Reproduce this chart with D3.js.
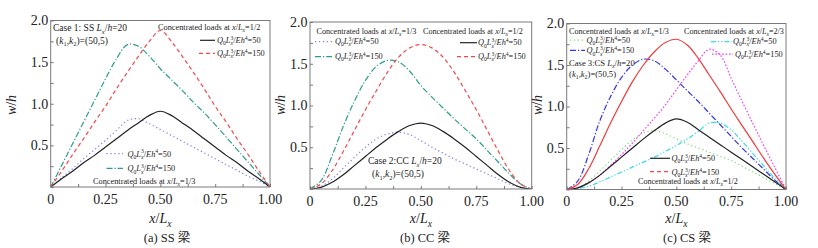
<!DOCTYPE html>
<html>
<head>
<meta charset="utf-8">
<script src="https://cdn.jsdelivr.net/npm/d3@7"></script>
<style>
  body { margin: 0; background: #fff; }
  svg { display: block; }
  svg text { fill: #222; }
</style>
</head>
<body>
<svg id="chart" width="818" height="248" font-family="'Liberation Serif', 'Noto Sans CJK SC', serif"></svg>
<script>
// shared x grid (x/Lx)
const xs = [0, 0.05, 0.1, 0.15, 0.2, 0.25, 0.3, 0.35, 0.4, 0.45, 0.5,
            0.55, 0.6, 0.65, 0.7, 0.75, 0.8, 0.85, 0.9, 0.95, 1];

// (a) SS beam
const ssMid50    = [0, 0.1, 0.19, 0.29, 0.38, 0.48, 0.58, 0.68, 0.77, 0.86, 0.91, 0.86, 0.77, 0.68, 0.58, 0.48, 0.38, 0.29, 0.19, 0.1, 0];
const ssMid150   = [0, 0.19, 0.39, 0.58, 0.78, 0.97, 1.18, 1.38, 1.57, 1.75, 1.88, 1.75, 1.57, 1.38, 1.18, 0.97, 0.78, 0.58, 0.39, 0.19, 0];
const ssThird50  = [0, 0.11, 0.22, 0.34, 0.45, 0.56, 0.68, 0.8, 0.82, 0.76, 0.69, 0.62, 0.55, 0.48, 0.41, 0.34, 0.27, 0.2, 0.13, 0.07, 0];
const ssThird150 = [0, 0.26, 0.52, 0.78, 1.04, 1.3, 1.54, 1.71, 1.69, 1.57, 1.42, 1.29, 1.16, 1.02, 0.89, 0.75, 0.6, 0.45, 0.3, 0.15, 0];

// (b) CC beam
const ccMid50    = [0, 0.02, 0.08, 0.17, 0.28, 0.39, 0.5, 0.6, 0.69, 0.76, 0.79, 0.76, 0.69, 0.6, 0.5, 0.39, 0.28, 0.17, 0.08, 0.02, 0];
const ccMid150   = [0, 0.06, 0.22, 0.45, 0.7, 0.95, 1.18, 1.4, 1.58, 1.69, 1.73, 1.69, 1.58, 1.4, 1.18, 0.95, 0.7, 0.45, 0.22, 0.06, 0];
const ccThird50  = [0, 0.03, 0.12, 0.25, 0.38, 0.5, 0.6, 0.66, 0.68, 0.65, 0.58, 0.5, 0.43, 0.36, 0.3, 0.24, 0.18, 0.12, 0.06, 0.02, 0];
const ccThird150 = [0, 0.1, 0.4, 0.75, 1.05, 1.3, 1.47, 1.54, 1.52, 1.41, 1.24, 1.1, 0.97, 0.84, 0.72, 0.6, 0.46, 0.32, 0.18, 0.06, 0];

// (c) CS beam
const csMid50       = [0, 0.02, 0.08, 0.17, 0.28, 0.39, 0.5, 0.61, 0.71, 0.8, 0.85, 0.81, 0.72, 0.63, 0.54, 0.45, 0.36, 0.27, 0.18, 0.09, 0];
const csMid150      = [0, 0.06, 0.25, 0.52, 0.8, 1.06, 1.3, 1.5, 1.66, 1.77, 1.81, 1.74, 1.58, 1.38, 1.18, 0.97, 0.77, 0.57, 0.37, 0.18, 0];
const csThird50     = [0, 0.02, 0.1, 0.22, 0.35, 0.48, 0.6, 0.68, 0.71, 0.67, 0.61, 0.55, 0.5, 0.45, 0.4, 0.35, 0.28, 0.21, 0.14, 0.07, 0];
const csThird150    = [0, 0.1, 0.42, 0.82, 1.12, 1.35, 1.5, 1.57, 1.55, 1.45, 1.32, 1.19, 1.06, 0.92, 0.78, 0.64, 0.5, 0.37, 0.24, 0.11, 0];
const csTwoThird50  = [0, 0.01, 0.04, 0.09, 0.15, 0.21, 0.27, 0.33, 0.39, 0.46, 0.53, 0.61, 0.7, 0.8, 0.8, 0.72, 0.58, 0.43, 0.28, 0.13, 0];
const csTwoThird150 = [0, 0.02, 0.08, 0.17, 0.29, 0.42, 0.56, 0.71, 0.86, 1.02, 1.2, 1.38, 1.55, 1.69, 1.62, 1.34, 1.06, 0.79, 0.52, 0.26, 0];

const xTicks = [0, 0.25, 0.5, 0.75, 1];
const xTickLabels = ["0", "0.25", "0.50", "0.75", "1.00"];
const yTicks = [0.5, 1, 1.5, 2];
const yTickLabels = ["0.5", "1.0", "1.5", "2.0"];
const captions = ["(a)  SS 梁", "(b)  CC 梁", "(c)  CS 梁"];

// line styles
const st = {
  black:   { color: "#222222", dash: null },
  red:     { color: "#f04848", dash: "4,3" },
  redSol:  { color: "#f03a3a", dash: null },
  teal:    { color: "#2e9c8c", dash: "6,2,1.2,2" },
  purple:  { color: "#7f7ff5", dash: "1.3,2.6" },
  green:   { color: "#7fdc7f", dash: "1.3,2.6" },
  blue:    { color: "#3434e6", dash: "6,2,1.2,2" },
  cyan:    { color: "#34dceb", dash: "5,2,1.2,2,1.2,2" },
  magenta: { color: "#f040f0", dash: "1.6,1.8" }
};

const svg = d3.select("#chart");

const panels = [
  { left: 50.7, top: 20.5, width: 219.3, height: 166.5, ylab: 12, cap: captions[0], capX: 167,
    series: [[ssThird50, st.purple], [ssThird150, st.teal], [ssMid50, st.black], [ssMid150, st.red]] },
  { left: 310, top: 22, width: 221.7, height: 167, ylab: 281, cap: captions[1], capX: 425,
    series: [[ccThird50, st.purple], [ccThird150, st.teal], [ccMid50, st.black], [ccMid150, st.red]] },
  { left: 566.7, top: 23.5, width: 219.3, height: 166, ylab: 538, cap: captions[2], capX: 687,
    series: [[csThird50, st.green], [csTwoThird50, st.cyan], [csThird150, st.blue], [csTwoThird150, st.magenta], [csMid50, st.black], [csMid150, st.redSol]] }
];

const FONT = "'Liberation Serif', 'Noto Sans CJK SC', serif";

// rich text: parts = [text, flags] with flags i=italic, b=subscript, p=superscript, k=stack back over previous
function rich(g, x, y, parts, size, anchor) {
  const t = g.append("text").attr("x", x).attr("y", y)
    .attr("font-family", FONT)
    .attr("text-anchor", anchor || "start").style("font-size", size + "px");
  let cur = 0;
  parts.forEach(([txt, f = ""]) => {
    let off = 0, fs = size;
    if (f.includes("b")) { off = 0.28 * size; fs = 0.68 * size; }
    if (f.includes("p")) { off = -0.38 * size; fs = 0.68 * size; }
    const ts = t.append("tspan").attr("dy", off - cur).style("font-size", fs + "px").text(txt);
    if (f.includes("i")) ts.style("font-style", "italic");
    if (f.includes("k")) ts.attr("dx", -0.3 * size);
    cur = off;
  });
  return t;
}

const qLabel = v => [["Q", "i"], ["0", "b"], ["L", "i"], ["x", "ib"], ["3", "pk"], ["/"], ["E", "i"], ["h", "i"], ["4", "p"], ["=" + v]];
const loadLabel = frac => [["Concentrated loads at "], ["x", "i"], ["/"], ["L", "i"], ["x", "ib"], ["=" + frac]];
const caseLabel = (name) => [[name + " "], ["L", "i"], ["x", "ib"], ["/"], ["h", "i"], ["=20"]];
const kLabel = [["("], ["k", "i"], ["1", "b"], [","], ["k", "i"], ["2", "b"], [")=(50,5)"]];

function legendLine(g, x1, x2, y, s) {
  g.append("line").attr("x1", x1).attr("x2", x2).attr("y1", y).attr("y2", y)
    .attr("stroke", s.color).attr("stroke-width", 1.2)
    .attr("stroke-dasharray", s.dash);
}

panels.forEach((p, i) => {
  const g = svg.append("g");
  const x = d3.scaleLinear().domain([0, 1]).range([p.left, p.left + p.width]);
  const y = d3.scaleLinear().domain([0, 2]).range([p.top + p.height, p.top]);

  // curves
  const line = d3.line().x((d, k) => x(xs[k])).y(d => y(d)).curve(d3.curveCatmullRom.alpha(0.5));
  const clipId = "clip" + i;
  g.append("clipPath").attr("id", clipId).append("rect")
    .attr("x", p.left).attr("y", p.top).attr("width", p.width).attr("height", p.height);
  p.series.forEach(([vals, s]) => {
    g.append("path").attr("d", line(vals)).attr("fill", "none")
      .attr("clip-path", `url(#${clipId})`)
      .attr("stroke", s.color).attr("stroke-width", 1.2)
      .attr("stroke-dasharray", s.dash);
  });

  // frame
  g.append("rect").attr("x", p.left).attr("y", p.top).attr("width", p.width).attr("height", p.height)
    .attr("fill", "none").attr("stroke", "#7a7a7a").attr("stroke-width", 1);

  // axes (inward ticks)
  const xa = g.append("g").attr("transform", `translate(0,${p.top + p.height})`)
    .call(d3.axisBottom(x).tickValues(d3.range(0, 1.0001, 0.125)).tickSize(-3).tickFormat(""));
  const ya = g.append("g").attr("transform", `translate(${p.left},0)`)
    .call(d3.axisLeft(y).tickValues(d3.range(0, 2.0001, 0.25)).tickSize(-3).tickFormat(""));
  [xa, ya].forEach(a => { a.select(".domain").remove(); a.selectAll("line").attr("stroke", "#7a7a7a"); });

  xTicks.forEach((v, k) => {
    g.append("text").attr("x", x(v)).attr("y", p.top + p.height + 16.5)
      .attr("font-family", FONT)
      .attr("text-anchor", "middle").style("font-size", "14px").text(xTickLabels[k]);
  });
  yTicks.forEach((v, k) => {
    g.append("text").attr("x", p.left - 2.5).attr("y", y(v) + 4.8)
      .attr("font-family", FONT)
      .attr("text-anchor", "end").style("font-size", "14px").text(yTickLabels[k]);
  });

  // axis titles
  rich(g, p.left + p.width / 2, 223, [["x", "i"], ["/"], ["L", "i"], ["x", "ib"]], 14, "middle");
  rich(g, 0, 0, [["w", "i"], ["/"], ["h", "i"]], 14, "middle")
    .attr("transform", `translate(${p.ylab + 4},105) rotate(-90)`);

  // caption
  g.append("text").attr("x", p.capX).attr("y", 242).attr("text-anchor", "middle")
    .attr("font-family", FONT)
    .style("font-size", "12.5px").text(p.cap);
});

// panel (a) annotations
const ga = svg.append("g");
rich(ga, 53, 31, caseLabel("Case 1: SS"), 9.5);
rich(ga, 56, 43.5, kLabel, 9.5);
rich(ga, 158, 29.5, loadLabel("1/2"), 8.3);
legendLine(ga, 200, 215, 40.3, st.black);
rich(ga, 217, 42.8, qLabel(50), 8.3);
legendLine(ga, 199, 215, 53.3, st.red);
rich(ga, 217, 55.8, qLabel(150), 8.3);
legendLine(ga, 106.5, 123, 153.7, st.purple);
rich(ga, 127.5, 156.5, qLabel(50), 8.3);
legendLine(ga, 106.5, 123, 168.3, st.teal);
rich(ga, 127.5, 171.2, qLabel(150), 8.3);
rich(ga, 93, 183.5, loadLabel("1/3"), 8.3);

// panel (b) annotations
const gb = svg.append("g");
rich(gb, 316.5, 33.5, loadLabel("1/3"), 8.1);
legendLine(gb, 315, 332, 41.7, st.purple);
rich(gb, 335, 44, qLabel(50), 8.3);
legendLine(gb, 315, 332, 56.7, st.teal);
rich(gb, 335, 59, qLabel(150), 8.3);
rich(gb, 423, 33.5, loadLabel("1/2"), 8.1);
legendLine(gb, 460, 477, 42.7, st.black);
rich(gb, 478, 45.3, qLabel(50), 8.3);
legendLine(gb, 457, 477, 56.7, st.red);
rich(gb, 478, 59, qLabel(150), 8.3);
rich(gb, 368, 164, caseLabel("Case 2:CC"), 9.5);
rich(gb, 372, 177, kLabel, 9.5);

// panel (c) annotations
const gc = svg.append("g");
rich(gc, 569, 33.5, loadLabel("1/3"), 8.1);
legendLine(gc, 570, 584, 40.2, st.green);
rich(gc, 586.5, 43, qLabel(50), 8.3);
legendLine(gc, 570, 585, 50.3, st.blue);
rich(gc, 586.5, 53.2, qLabel(150), 8.3);
rich(gc, 569, 65.5, caseLabel("Case 3:CS"), 8.6);
rich(gc, 569, 76.5, kLabel, 8.6);
rich(gc, 684, 33.5, loadLabel("2/3"), 8.1);
legendLine(gc, 711, 732, 41.7, st.cyan);
rich(gc, 733, 44, qLabel(50), 8.3);
legendLine(gc, 712, 733, 54.2, st.magenta);
rich(gc, 735, 56.8, qLabel(150), 8.3);
legendLine(gc, 650, 670, 158.3, st.black);
rich(gc, 671.5, 161, qLabel(50), 8.3);
legendLine(gc, 650, 670, 171.7, st.red);
rich(gc, 671.5, 175, qLabel(150), 8.3);
rich(gc, 638, 183.8, loadLabel("1/2"), 8.1);
</script>
</body>
</html>
